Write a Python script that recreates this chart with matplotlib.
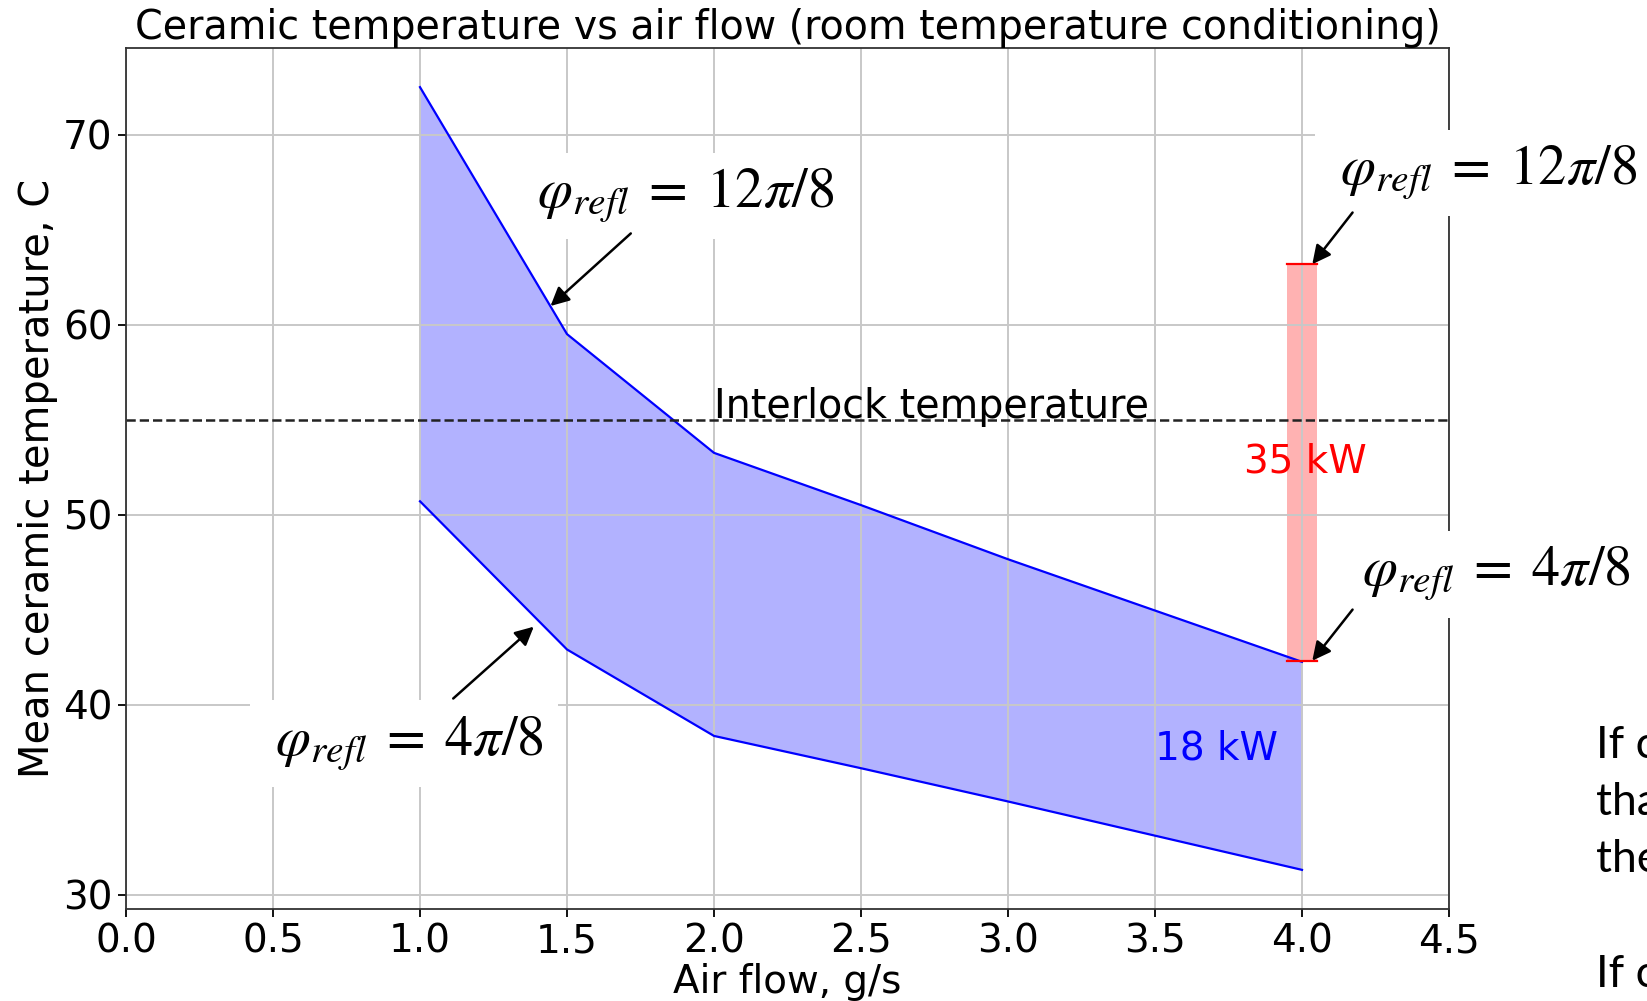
import matplotlib
matplotlib.use("Agg")
import matplotlib.pyplot as plt

plt.rcParams['mathtext.fontset'] = 'stix'
plt.rcParams['font.size'] = 28

# air flow, g/s
flow = [1.0, 1.5, 2.0, 2.5, 3.0, 3.5, 4.0]
# mean ceramic temperature for the two reflection phases
t_upper = [72.5, 59.5, 53.25, 50.5, 47.65, 44.95, 42.25]   # phi = 12pi/8
t_lower = [50.7, 42.9, 38.35, 36.65, 34.9, 33.1, 31.3]     # phi = 4pi/8

interlock = 55.0
bar_x = [3.95, 4.05]
bar_lo, bar_hi = 42.3, 63.2

lbl_hi = r'$\;\varphi_{refl}\;=\;12\pi/8\;$'
lbl_lo = r'$\;\varphi_{refl}\;=\;4\pi/8\;$'

W, H = 1647, 1001
fig = plt.figure(figsize=(W / 100, H / 100), dpi=100)
ax = fig.add_axes([126 / W, 1 - 909 / H, (1449 - 126) / W, (909 - 48) / H])

ax.fill_between(flow, t_lower, t_upper, color='blue', alpha=0.3, lw=0)
ax.plot(flow, t_upper, color='blue', lw=1.6)
ax.plot(flow, t_lower, color='blue', lw=1.6)

ax.fill_between(bar_x, bar_lo, bar_hi, color='red', alpha=0.3, lw=0)
ax.plot(bar_x, [bar_hi, bar_hi], color='red', lw=1.6)
ax.plot(bar_x, [bar_lo, bar_lo], color='red', lw=1.6)

ax.axhline(interlock, color='#222222', ls='--', lw=1.8)
ax.text(2.0, interlock + 0.1, 'Interlock temperature', va='baseline', ha='left',
        fontsize=28.5)
ax.text(4.01, 52.8, '35 kW', color='red', ha='center', va='center')
ax.text(3.71, 37.7, '18 kW', color='blue', ha='center', va='center')

ax.set_xlim(0, 4.5)
ax.grid(True, color='#c8c8c8', lw=1.4)
for s in ax.spines.values():
    s.set_linewidth(1.3)
    s.set_color('#333333')
ax.tick_params(length=6, width=1.3)
ax.set_title('Ceramic temperature vs air flow (room temperature conditioning)',
             fontsize=28.5, pad=5)
ax.set_xlabel('Air flow, g/s', labelpad=2)
ax.set_ylabel('Mean ceramic temperature, C', fontsize=28.8, labelpad=4)

# slide overlays: equation boxes and arrows
box = dict(boxstyle='square,pad=0.25', fc='white', ec='none')
notes = [
    (lbl_hi, 1.885, 66.75, (1.717, 64.8), (1.444, 60.98)),
    (lbl_lo, 0.944, 37.95, (1.113, 40.32), (1.387, 44.1)),
    (lbl_hi, 4.617, 68.0, (4.172, 65.9), (4.035, 63.18)),
    (lbl_lo, 4.644, 46.85, (4.172, 45.0), (4.035, 42.31)),
]
for txt, x, y, tail, tip in notes:
    ax.text(x, y, txt, fontsize=40.5, ha='center', va='center', bbox=box,
            zorder=10, clip_on=False)
    ax.annotate('', xy=tip, xytext=tail, zorder=11, annotation_clip=False,
                arrowprops=dict(arrowstyle='-|>', color='black', lw=1.8,
                                mutation_scale=28, shrinkA=0, shrinkB=0))

# text of the slide, cut by the right edge
for s, yb in [('If c', 758), ('tha', 815), ('the', 872), ('If c', 987)]:
    fig.text(1596 / W, 1 - yb / H, s, family='Lato', fontsize=32, va='baseline')

fig.savefig('out.png', dpi=100)
